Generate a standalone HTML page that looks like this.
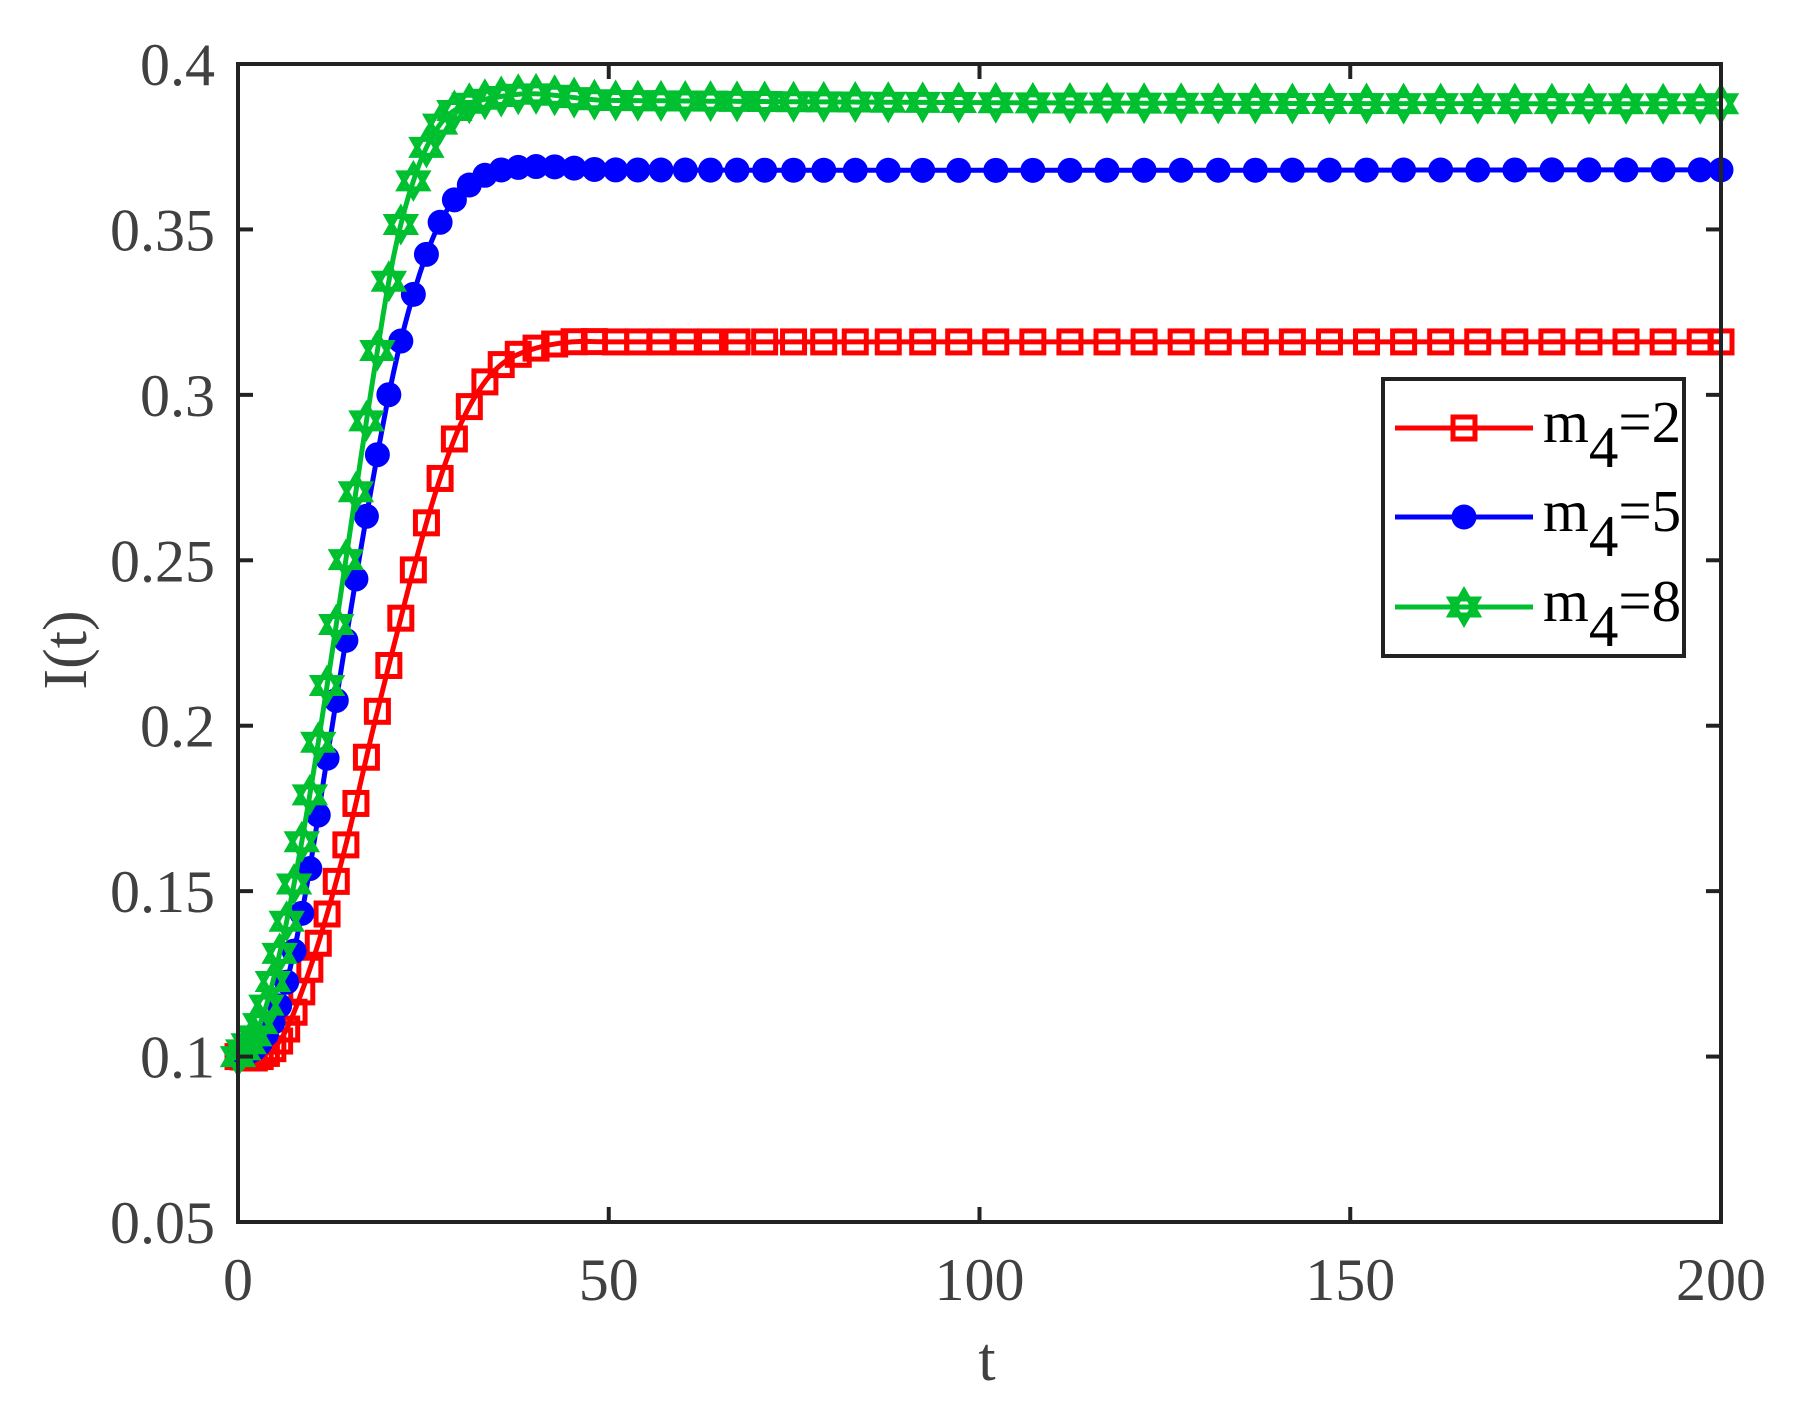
<!DOCTYPE html>
<html><head><meta charset="utf-8"><style>
html,body{margin:0;padding:0;background:#fff;}
svg{display:block;}
text{font-family:"Liberation Serif",serif;}
</style></head><body>
<svg id="s" width="1796" height="1422" xmlns="http://www.w3.org/2000/svg">
<rect width="1796" height="1422" fill="#fff"/>
<g id="data"></g>
<rect x="238" y="64" width="1483" height="1158" fill="none" stroke="#222" stroke-width="4"/>
<g id="ticks" stroke="#222" stroke-width="4"></g>
<g id="labels" fill="#404040" font-size="60"></g>
<text x="987" y="1380" font-size="62" fill="#404040" text-anchor="middle">t</text>
<text transform="translate(86,650) rotate(-90)" font-size="62" fill="#404040" text-anchor="middle">I(t)</text>
<rect x="1383" y="379" width="301" height="277" fill="#fff" stroke="#222" stroke-width="4"/>
<g id="leg"></g>
<g font-size="59" fill="#000">
<text x="1543" y="442">m<tspan dy="25">4</tspan><tspan dy="-25">=2</tspan></text>
<text x="1543" y="531">m<tspan dy="25">4</tspan><tspan dy="-25">=5</tspan></text>
<text x="1543" y="621">m<tspan dy="25">4</tspan><tspan dy="-25">=8</tspan></text>
</g>
</svg>
<script>
var NS="http://www.w3.org/2000/svg";
function X(t){return 238+t*7.415;}
function Y(v){return 1222-(v-0.05)/0.35*1158;}
function el(p,n,a){var e=document.createElementNS(NS,n);for(var k in a)e.setAttribute(k,a[k]);p.appendChild(e);return e;}
var ticks=document.getElementById('ticks'),labels=document.getElementById('labels');
[0,50,100,150,200].forEach(function(t){var x=X(t);
 el(ticks,'line',{x1:x,y1:1222,x2:x,y2:1207});el(ticks,'line',{x1:x,y1:64,x2:x,y2:79});
 var tx=el(labels,'text',{x:x,y:1300,'text-anchor':'middle'});tx.textContent=t;});
[0.05,0.1,0.15,0.2,0.25,0.3,0.35,0.4].forEach(function(v){var y=Y(v);
 el(ticks,'line',{x1:238,y1:y,x2:253,y2:y});el(ticks,'line',{x1:1721,y1:y,x2:1706,y2:y});
 var tx=el(labels,'text',{x:215,y:y+21,'text-anchor':'end'});tx.textContent=String(v);});
var series=[
 {c:'#ff0000',m:'sq',k:[[0,.1],[3,.1],[6,.106],[9,.122],[12,.143],[15,.168],[18,.197],[21,.224],[24,.25],[27,.273],[30,.291],[33,.303],[36,.31],[40,.314],[45,.316],[50,.316],[200,.316]]},
 {c:'#0000ff',m:'ci',k:[[0,.1],[3,.104],[6,.118],[9,.148],[12,.19],[15,.232],[18,.272],[21,.307],[24,.333],[27,.351],[30,.361],[34,.367],[40,.369],[50,.368],[200,.368]]},
 {c:'#00c030',m:'st',k:[[0,.1],[3,.11],[6,.135],[9,.17],[12,.212],[15,.257],[18,.302],[21,.342],[24,.367],[27,.381],[30,.387],[35,.39],[40,.391],[50,.389],[200,.388]]}
];
function interp(k,t){for(var i=0;i<k.length-1;i++){if(t<=k[i+1][0]){var a=k[i],b=k[i+1];
 var p0=k[Math.max(0,i-1)],p3=k[Math.min(k.length-1,i+2)];var u=(t-a[0])/(b[0]-a[0]);
 var m1=(b[1]-p0[1])/(b[0]-p0[0])*(b[0]-a[0]),m2=(p3[1]-a[1])/(p3[0]-a[0])*(b[0]-a[0]);
 if(i==k.length-2)m2=0;
 var h00=2*u*u*u-3*u*u+1,h10=u*u*u-2*u*u+u,h01=-2*u*u*u+3*u*u,h11=u*u*u-u*u;
 return h00*a[1]+h10*m1+h01*b[1]+h11*m2;}}return k[k.length-1][1];}
function marker(g,m,c,x,y){
 if(m=='sq')el(g,'rect',{x:x-11,y:y-11,width:22,height:22,fill:'none',stroke:c,'stroke-width':5});
 else if(m=='ci')el(g,'circle',{cx:x,cy:y,r:12.5,fill:c});
 else{var r=16,p1=[],p2=[];for(var i=0;i<3;i++){var a=-Math.PI/2+i*2*Math.PI/3;p1.push((x+r*Math.cos(a))+','+(y+r*Math.sin(a)));
  var b=Math.PI/2+i*2*Math.PI/3;p2.push((x+r*Math.cos(b))+','+(y+r*Math.sin(b)));}
  el(g,'polygon',{points:p1.join(' '),fill:'none',stroke:c,'stroke-width':5});
  el(g,'polygon',{points:p2.join(' '),fill:'none',stroke:c,'stroke-width':5});}
}
var g=document.getElementById('data');
series.forEach(function(s){var pts=[];for(var t=0;t<=200;t+=0.5)pts.push(X(t).toFixed(1)+','+Y(interp(s.k,t)).toFixed(1));
 el(g,'polyline',{points:pts.join(' '),fill:'none',stroke:s.c,'stroke-width':5});
 var t=0;while(t<=200.01){marker(g,s.m,s.c,X(t),Y(interp(s.k,t)));var st=Math.min(5,0.7+t*0.045);t+=st;}
 if(t-200>0.5)marker(g,s.m,s.c,X(200),Y(interp(s.k,200)));
});
var leg=document.getElementById('leg');
[[428,0],[517,1],[607,2]].forEach(function(r){var s=series[r[1]];
 el(leg,'line',{x1:1395,y1:r[0],x2:1533,y2:r[0],stroke:s.c,'stroke-width':5});marker(leg,s.m,s.c,1464,r[0]);});
</script>
</body></html>
